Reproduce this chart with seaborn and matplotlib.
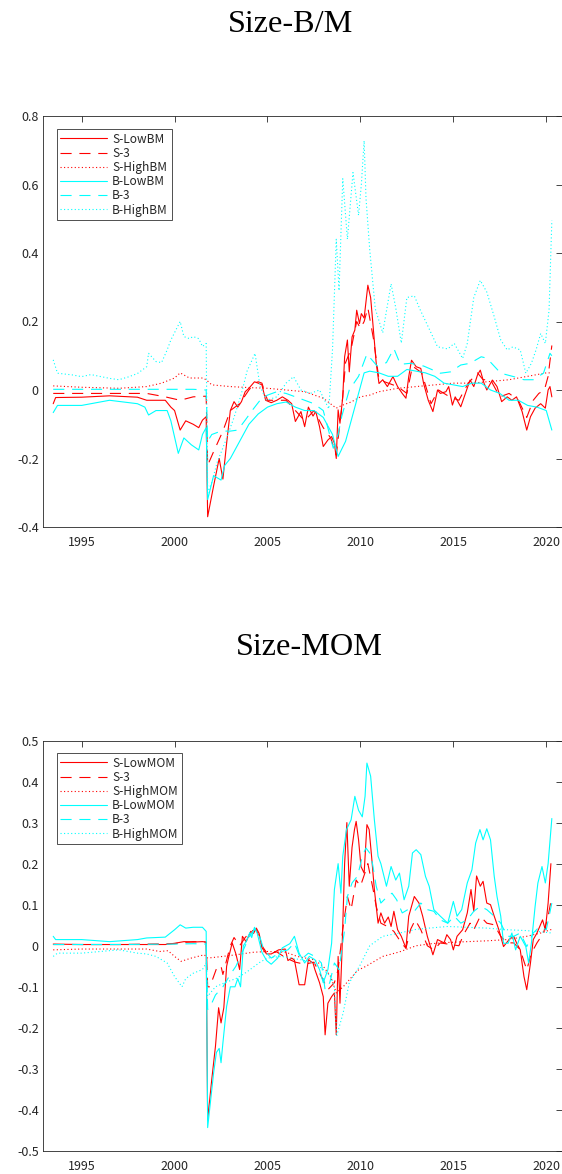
import matplotlib
matplotlib.use("Agg")
import matplotlib.pyplot as plt
import seaborn as sns
from matplotlib.ticker import FuncFormatter, FixedLocator

# ---------------- Size-B/M ----------------
bm_labels = ["S-LowBM", "S-3", "S-HighBM", "B-LowBM", "B-3", "B-HighBM"]

s_low_bm_x = [1993.47, 1993.6, 1995.0, 1996.5, 1998.0, 1998.5, 1999.5, 1999.8, 2000.0, 2000.3, 2000.6, 2001.0, 2001.3, 2001.5, 2001.70, 2001.78, 2002.1, 2002.4, 2002.6, 2002.8, 2003.0, 2003.2, 2003.4, 2003.6, 2003.8, 2004.0, 2004.3, 2004.5, 2004.7, 2004.9, 2005.2, 2005.5, 2005.8, 2006.1, 2006.3, 2006.5, 2006.8, 2007.0, 2007.2, 2007.45, 2007.6, 2007.8, 2008.0, 2008.25, 2008.45, 2008.6, 2008.7, 2008.8, 2008.9, 2009.05, 2009.15, 2009.3, 2009.4, 2009.55, 2009.7, 2009.8, 2009.95, 2010.05, 2010.2, 2010.4, 2010.55, 2010.7, 2010.85, 2011.0, 2011.2, 2011.45, 2011.75, 2012.0, 2012.25, 2012.45, 2012.6, 2012.75, 2013.0, 2013.25, 2013.4, 2013.65, 2013.9, 2014.15, 2014.3, 2014.6, 2014.75, 2014.95, 2015.1, 2015.4, 2015.65, 2015.9, 2016.1, 2016.3, 2016.45, 2016.65, 2016.8, 2017.1, 2017.35, 2017.6, 2017.9, 2018.15, 2018.4, 2018.7, 2018.95, 2019.15, 2019.4, 2019.7, 2019.95, 2020.1, 2020.2, 2020.3]
s_low_bm_y = [-0.04, -0.022, -0.021, -0.017, -0.021, -0.03, -0.03, -0.05, -0.06, -0.117, -0.09, -0.10, -0.11, -0.088, -0.078, -0.37, -0.28, -0.20, -0.26, -0.156, -0.06, -0.034, -0.05, -0.034, -0.005, 0.005, 0.024, 0.02, 0.015, -0.03, -0.037, -0.03, -0.02, -0.03, -0.04, -0.092, -0.063, -0.107, -0.05, -0.076, -0.063, -0.107, -0.165, -0.146, -0.136, -0.155, -0.2, -0.058, -0.097, -0.02, 0.097, 0.146, 0.053, 0.155, 0.175, 0.233, 0.194, 0.223, 0.21, 0.306, 0.27, 0.175, 0.078, 0.019, 0.03, 0.01, 0.039, 0.01, -0.01, -0.024, 0.039, 0.087, 0.068, 0.063, 0.019, -0.03, -0.063, 0.0, -0.01, -0.005, 0.01, -0.044, -0.02, -0.049, -0.01, 0.029, 0.01, 0.044, 0.058, 0.02, 0.0, 0.029, 0.01, -0.034, -0.02, -0.03, -0.02, -0.063, -0.117, -0.078, -0.053, -0.04, -0.053, 0.0, 0.01, -0.02]

s_3_bm_x = [1993.47, 1995.0, 1997.0, 1998.5, 1999.5, 2000.3, 2001.0, 2001.70, 2001.78, 2002.1, 2002.3, 2002.6, 2003.0, 2003.5, 2004.0, 2004.3, 2004.5, 2004.7, 2005.0, 2005.5, 2006.0, 2006.5, 2007.0, 2007.5, 2008.0, 2008.4, 2008.7, 2009.0, 2009.2, 2009.5, 2009.8, 2010.0, 2010.2, 2010.4, 2010.7, 2011.0, 2011.5, 2012.0, 2012.5, 2012.8, 2013.3, 2013.8, 2014.2, 2014.8, 2015.3, 2015.8, 2016.3, 2016.6, 2017.0, 2017.5, 2018.0, 2018.5, 2018.95, 2019.3, 2019.6, 2019.9, 2020.1, 2020.3]
s_3_bm_y = [-0.01, -0.01, -0.01, -0.01, -0.02, -0.03, -0.02, -0.018, -0.22, -0.18, -0.156, -0.12, -0.06, -0.04, 0.0, 0.02, 0.024, 0.02, -0.03, -0.03, -0.03, -0.06, -0.09, -0.06, -0.11, -0.14, -0.19, -0.05, 0.08, 0.12, 0.2, 0.18, 0.2, 0.24, 0.15, 0.03, 0.02, 0.01, -0.01, 0.07, 0.05, -0.04, 0.0, -0.02, -0.03, 0.02, 0.05, 0.03, 0.03, -0.02, -0.01, -0.03, -0.08, -0.03, -0.01, 0.0, 0.04, 0.13]

s_high_bm_x = [1993.47, 1995.0, 1997.0, 1998.5, 1999.3, 2000.0, 2000.3, 2000.8, 2001.5, 2001.70, 2002.0, 2003.0, 2004.0, 2005.0, 2006.0, 2007.0, 2008.0, 2008.7, 2009.0, 2009.5, 2010.0, 2010.5, 2011.0, 2012.0, 2013.0, 2014.0, 2015.0, 2016.0, 2017.0, 2018.0, 2019.0, 2020.0, 2020.3]
s_high_bm_y = [0.012, 0.008, 0.005, 0.01, 0.02, 0.035, 0.05, 0.035, 0.035, 0.03, 0.015, 0.01, 0.007, 0.005, 0.0, -0.005, -0.024, -0.053, -0.045, -0.035, -0.02, -0.015, -0.005, 0.005, 0.01, 0.015, 0.02, 0.02, 0.025, 0.03, 0.04, 0.05, 0.05]

b_low_bm_x = [1993.47, 1993.7, 1995.0, 1996.5, 1998.0, 1998.4, 1998.6, 1999.0, 1999.6, 1999.8, 2000.2, 2000.5, 2000.9, 2001.3, 2001.5, 2001.70, 2001.78, 2002.1, 2002.5, 2002.7, 2003.0, 2003.5, 2004.0, 2004.5, 2005.0, 2005.5, 2006.0, 2006.5, 2007.0, 2007.5, 2008.0, 2008.5, 2008.8, 2009.2, 2009.5, 2009.8, 2010.2, 2010.5, 2011.0, 2011.5, 2012.0, 2012.5, 2013.0, 2013.5, 2014.0, 2014.5, 2015.0, 2015.5, 2016.0, 2016.5, 2017.0, 2017.5, 2018.0, 2018.5, 2019.0, 2019.5, 2020.0, 2020.3]
b_low_bm_y = [-0.066, -0.045, -0.045, -0.03, -0.04, -0.05, -0.073, -0.06, -0.06, -0.09, -0.185, -0.14, -0.16, -0.175, -0.13, -0.11, -0.32, -0.25, -0.263, -0.22, -0.2, -0.15, -0.1, -0.07, -0.05, -0.04, -0.035, -0.05, -0.06, -0.06, -0.08, -0.13, -0.194, -0.15, -0.09, -0.03, 0.05, 0.055, 0.05, 0.04, 0.04, 0.06, 0.055, 0.05, 0.04, 0.02, 0.015, 0.01, 0.02, 0.02, 0.0, -0.01, -0.03, -0.03, -0.045, -0.05, -0.06, -0.117]

b_3_bm_x = [1993.47, 1995.0, 1997.0, 1999.0, 2001.0, 2001.70, 2001.78, 2002.0, 2002.5, 2003.0, 2003.4, 2003.8, 2004.2, 2004.6, 2005.0, 2005.5, 2006.0, 2006.5, 2007.0, 2007.5, 2008.0, 2008.54, 2008.8, 2009.0, 2009.4, 2009.9, 2010.35, 2010.9, 2011.4, 2011.8, 2012.15, 2012.7, 2013.4, 2014.3, 2014.85, 2015.4, 2015.9, 2016.5, 2016.8, 2017.55, 2018.25, 2018.8, 2019.3, 2019.85, 2020.2, 2020.3]
b_3_bm_y = [0.002, 0.002, 0.002, 0.002, 0.002, 0.0, -0.15, -0.13, -0.12, -0.12, -0.117, -0.088, -0.058, -0.03, -0.015, -0.005, -0.01, -0.02, -0.03, -0.04, -0.06, -0.17, -0.13, -0.076, 0.0, 0.04, 0.105, 0.07, 0.08, 0.121, 0.075, 0.078, 0.07, 0.049, 0.053, 0.073, 0.078, 0.097, 0.093, 0.049, 0.039, 0.03, 0.03, 0.049, 0.107, 0.1]

b_high_bm_x = [1993.47, 1993.7, 1994.5, 1995.0, 1995.5, 1996.5, 1997.0, 1997.5, 1998.0, 1998.5, 1998.6, 1999.0, 1999.3, 1999.6, 1999.8, 2000.3, 2000.5, 2000.8, 2001.0, 2001.3, 2001.5, 2001.70, 2001.78, 2002.0, 2002.3, 2002.7, 2003.2, 2003.6, 2003.9, 2004.33, 2004.6, 2004.95, 2005.5, 2006.0, 2006.4, 2006.8, 2007.3, 2007.8, 2008.3, 2008.5, 2008.7, 2008.85, 2009.05, 2009.3, 2009.6, 2009.9, 2010.05, 2010.2, 2010.3, 2010.5, 2010.8, 2011.2, 2011.65, 2011.9, 2012.2, 2012.5, 2012.9, 2013.2, 2013.6, 2014.15, 2014.7, 2015.05, 2015.5, 2015.75, 2016.1, 2016.45, 2016.8, 2017.2, 2017.55, 2017.9, 2018.2, 2018.6, 2018.9, 2019.2, 2019.45, 2019.7, 2019.95, 2020.15, 2020.3]
b_high_bm_y = [0.088, 0.049, 0.044, 0.039, 0.045, 0.034, 0.03, 0.038, 0.048, 0.068, 0.107, 0.083, 0.08, 0.117, 0.146, 0.2, 0.156, 0.15, 0.156, 0.15, 0.127, 0.136, -0.3, -0.27, -0.21, -0.155, -0.08, -0.01, 0.055, 0.107, 0.01, -0.03, -0.02, 0.02, 0.039, 0.0, -0.01, 0.0, -0.055, 0.12, 0.44, 0.29, 0.617, 0.44, 0.635, 0.51, 0.6, 0.728, 0.56, 0.41, 0.237, 0.167, 0.31, 0.24, 0.137, 0.27, 0.275, 0.236, 0.19, 0.126, 0.12, 0.136, 0.092, 0.136, 0.27, 0.32, 0.286, 0.214, 0.146, 0.117, 0.126, 0.117, 0.049, 0.078, 0.117, 0.165, 0.136, 0.233, 0.495]

# ---------------- Size-MOM ----------------
mom_labels = ["S-LowMOM", "S-3", "S-HighMOM", "B-LowMOM", "B-3", "B-HighMOM"]

s_low_mom_x = [1993.47, 1995.0, 1997.0, 1999.5, 2000.0, 2000.5, 2001.0, 2001.5, 2001.70, 2001.78, 2002.0, 2002.2, 2002.37, 2002.5, 2002.65, 2002.8, 2002.9, 2003.1, 2003.3, 2003.5, 2003.65, 2003.85, 2004.1, 2004.25, 2004.4, 2004.55, 2004.7, 2004.95, 2005.2, 2005.6, 2005.95, 2006.1, 2006.3, 2006.45, 2006.7, 2007.0, 2007.2, 2007.45, 2007.55, 2007.8, 2008.0, 2008.1, 2008.25, 2008.45, 2008.6, 2008.7, 2008.8, 2008.9, 2009.0, 2009.15, 2009.27, 2009.4, 2009.55, 2009.68, 2009.77, 2009.9, 2010.03, 2010.2, 2010.35, 2010.47, 2010.6, 2010.75, 2010.95, 2011.1, 2011.3, 2011.5, 2011.65, 2011.8, 2012.0, 2012.2, 2012.45, 2012.6, 2012.9, 2013.15, 2013.35, 2013.6, 2013.9, 2014.15, 2014.5, 2014.65, 2014.85, 2015.0, 2015.2, 2015.5, 2015.75, 2015.95, 2016.1, 2016.25, 2016.45, 2016.6, 2016.8, 2017.0, 2017.2, 2017.45, 2017.7, 2018.0, 2018.25, 2018.4, 2018.6, 2018.8, 2018.95, 2019.15, 2019.3, 2019.5, 2019.8, 2019.95, 2020.1, 2020.25]
s_low_mom_y = [0.004, 0.003, 0.003, 0.003, 0.006, 0.01, 0.009, 0.01, 0.009, -0.424, -0.326, -0.245, -0.151, -0.188, -0.151, -0.05, -0.03, 0.007, -0.02, -0.058, 0.023, 0.01, 0.035, 0.03, 0.043, 0.03, -0.005, -0.02, -0.02, -0.01, -0.008, -0.036, -0.03, -0.035, -0.095, -0.095, -0.034, -0.042, -0.058, -0.09, -0.124, -0.217, -0.14, -0.124, -0.115, -0.217, -0.026, -0.14, -0.026, 0.2, 0.3, 0.145, 0.24, 0.283, 0.303, 0.258, 0.193, 0.177, 0.295, 0.283, 0.218, 0.137, 0.055, 0.08, 0.055, 0.07, 0.047, 0.084, 0.039, 0.023, -0.006, 0.072, 0.12, 0.104, 0.072, 0.023, -0.022, 0.015, 0.007, 0.027, 0.015, -0.01, 0.023, 0.039, 0.08, 0.137, 0.084, 0.17, 0.145, 0.157, 0.104, 0.1, 0.072, 0.039, -0.002, 0.015, 0.023, 0.007, -0.01, -0.075, -0.107, -0.042, 0.015, 0.031, 0.063, 0.039, 0.104, 0.2]

s_3_mom_x = [1993.47, 1997.0, 2000.0, 2000.5, 2001.0, 2001.70, 2001.78, 2001.9, 2002.1, 2002.3, 2002.5, 2002.6, 2003.0, 2003.2, 2003.5, 2003.8, 2004.1, 2004.4, 2004.7, 2005.0, 2005.5, 2006.0, 2006.5, 2007.0, 2007.5, 2007.9, 2008.25, 2008.6, 2008.8, 2009.05, 2009.3, 2009.5, 2009.77, 2010.0, 2010.3, 2010.4, 2010.65, 2010.85, 2011.1, 2011.45, 2011.8, 2012.2, 2012.45, 2012.7, 2012.95, 2013.25, 2013.6, 2013.95, 2014.3, 2014.85, 2015.3, 2015.55, 2015.9, 2016.1, 2016.45, 2016.8, 2017.2, 2017.55, 2017.9, 2018.25, 2018.6, 2018.95, 2019.2, 2019.5, 2019.85, 2020.1, 2020.3]
s_3_mom_y = [0.003, 0.003, 0.005, 0.008, 0.01, 0.009, -0.1, -0.1, -0.075, -0.05, -0.05, -0.07, 0.0, 0.02, 0.0, 0.02, 0.035, 0.04, 0.0, -0.02, -0.015, -0.03, -0.04, -0.045, -0.04, -0.075, -0.107, -0.09, -0.058, 0.04, 0.12, 0.088, 0.16, 0.145, 0.185, 0.2, 0.145, 0.096, 0.055, 0.047, 0.035, 0.007, -0.006, 0.04, 0.063, 0.039, 0.0, -0.01, 0.007, 0.003, 0.0, 0.027, 0.055, 0.039, 0.072, 0.055, 0.051, 0.023, 0.007, 0.007, -0.01, -0.059, -0.018, 0.007, 0.031, 0.072, 0.12]

s_high_mom_x = [1993.47, 1995.0, 1998.5, 1999.2, 1999.65, 2000.0, 2000.35, 2000.9, 2001.6, 2001.78, 2002.4, 2003.3, 2004.2, 2005.0, 2006.0, 2006.6, 2007.5, 2008.0, 2008.4, 2008.7, 2009.07, 2009.4, 2009.85, 2010.3, 2011.2, 2012.1, 2013.0, 2013.8, 2014.7, 2015.75, 2016.8, 2017.9, 2018.95, 2019.7, 2020.3]
s_high_mom_y = [-0.01, -0.008, -0.008, -0.014, -0.012, -0.026, -0.038, -0.03, -0.022, -0.03, -0.027, -0.022, -0.016, -0.014, -0.016, -0.026, -0.034, -0.05, -0.075, -0.115, -0.1, -0.083, -0.06, -0.05, -0.026, -0.015, 0.0, 0.005, 0.008, 0.01, 0.012, 0.015, 0.023, 0.031, 0.04]

b_low_mom_x = [1993.47, 1993.6, 1995.0, 1996.5, 1998.0, 1998.5, 1999.5, 2000.0, 2000.3, 2000.6, 2001.0, 2001.5, 2001.70, 2001.78, 2002.1, 2002.25, 2002.4, 2002.5, 2002.6, 2002.8, 2003.0, 2003.25, 2003.4, 2003.55, 2003.7, 2003.85, 2004.05, 2004.15, 2004.3, 2004.45, 2004.7, 2004.95, 2005.2, 2005.55, 2005.8, 2006.0, 2006.2, 2006.45, 2006.7, 2007.0, 2007.25, 2007.55, 2007.8, 2008.0, 2008.25, 2008.45, 2008.6, 2008.8, 2008.95, 2009.05, 2009.25, 2009.5, 2009.7, 2009.9, 2010.1, 2010.25, 2010.35, 2010.55, 2010.75, 2010.95, 2011.1, 2011.4, 2011.65, 2011.9, 2012.1, 2012.35, 2012.6, 2012.8, 2013.0, 2013.25, 2013.5, 2013.7, 2013.95, 2014.3, 2014.7, 2015.0, 2015.2, 2015.45, 2015.75, 2016.0, 2016.2, 2016.43, 2016.6, 2016.8, 2017.0, 2017.2, 2017.35, 2017.55, 2017.7, 2017.95, 2018.15, 2018.35, 2018.6, 2018.9, 2019.05, 2019.2, 2019.4, 2019.55, 2019.77, 2019.95, 2020.1, 2020.3]
b_low_mom_y = [0.023, 0.015, 0.015, 0.01, 0.015, 0.019, 0.021, 0.039, 0.051, 0.043, 0.045, 0.045, 0.035, -0.443, -0.31, -0.26, -0.25, -0.285, -0.237, -0.148, -0.1, -0.1, -0.08, -0.1, 0.0, 0.01, 0.032, 0.02, 0.045, 0.03, -0.016, -0.036, -0.045, -0.03, -0.005, 0.0, 0.005, 0.023, -0.018, -0.042, -0.026, -0.034, -0.058, -0.09, -0.058, 0.006, 0.137, 0.2, 0.128, 0.218, 0.283, 0.307, 0.364, 0.33, 0.314, 0.364, 0.445, 0.413, 0.307, 0.218, 0.2, 0.145, 0.193, 0.16, 0.177, 0.112, 0.145, 0.226, 0.234, 0.222, 0.169, 0.145, 0.088, 0.072, 0.055, 0.108, 0.072, 0.088, 0.153, 0.185, 0.25, 0.283, 0.258, 0.285, 0.258, 0.169, 0.12, 0.072, 0.006, 0.006, 0.031, -0.01, 0.023, -0.002, -0.042, 0.006, 0.096, 0.153, 0.193, 0.153, 0.2, 0.31]

b_3_mom_x = [1993.47, 1997.0, 2000.0, 2001.0, 2001.70, 2001.78, 2001.9, 2002.2, 2002.6, 2003.0, 2003.3, 2003.6, 2004.0, 2004.3, 2004.5, 2004.8, 2005.2, 2005.75, 2006.1, 2006.45, 2006.8, 2007.2, 2007.55, 2007.9, 2008.1, 2008.35, 2008.6, 2008.85, 2009.15, 2009.3, 2009.55, 2009.85, 2010.1, 2010.3, 2010.5, 2010.65, 2010.85, 2011.1, 2011.45, 2011.7, 2011.95, 2012.25, 2012.55, 2012.9, 2013.25, 2013.6, 2013.95, 2014.3, 2014.7, 2015.05, 2015.4, 2015.75, 2016.1, 2016.45, 2016.8, 2017.2, 2017.55, 2017.9, 2018.25, 2018.6, 2018.95, 2019.3, 2019.65, 2020.0, 2020.3]
b_3_mom_y = [0.003, 0.003, 0.004, 0.005, 0.004, -0.155, -0.15, -0.12, -0.1, -0.07, -0.05, -0.02, 0.02, 0.04, 0.035, -0.01, -0.03, -0.014, -0.01, 0.007, -0.034, -0.018, -0.026, -0.042, -0.107, -0.09, -0.042, -0.058, 0.04, 0.12, 0.153, 0.17, 0.218, 0.238, 0.226, 0.2, 0.145, 0.104, 0.12, 0.128, 0.112, 0.08, 0.088, 0.084, 0.104, 0.088, 0.084, 0.063, 0.055, 0.072, 0.055, 0.063, 0.084, 0.096, 0.088, 0.072, 0.055, 0.023, 0.023, 0.031, -0.002, 0.031, 0.047, 0.039, 0.104]

b_high_mom_x = [1993.47, 1993.7, 1995.0, 1996.0, 1997.0, 1998.0, 1998.5, 1999.0, 1999.6, 2000.0, 2000.4, 2000.6, 2001.0, 2001.5, 2001.70, 2001.78, 2002.2, 2002.7, 2003.3, 2003.85, 2004.6, 2005.0, 2005.75, 2006.8, 2007.5, 2008.0, 2008.4, 2008.6, 2008.72, 2009.07, 2009.4, 2009.95, 2010.5, 2011.2, 2012.1, 2013.0, 2013.7, 2014.7, 2015.7, 2016.8, 2017.9, 2018.9, 2019.7, 2020.3]
b_high_mom_y = [-0.026, -0.018, -0.018, -0.014, -0.01, -0.018, -0.02, -0.026, -0.042, -0.075, -0.1, -0.08, -0.067, -0.058, -0.042, -0.123, -0.1, -0.09, -0.08, -0.065, -0.04, -0.03, -0.026, -0.034, -0.042, -0.058, -0.075, -0.1, -0.22, -0.164, -0.09, -0.05, 0.0, 0.023, 0.031, 0.04, 0.043, 0.047, 0.045, 0.043, 0.039, 0.037, 0.034, 0.031]

x_ticks = [1995, 2000, 2005, 2010, 2015, 2020]
bm_yticks = [-0.4, -0.2, 0.0, 0.2, 0.4, 0.6, 0.8]
mom_yticks = [-0.5, -0.4, -0.3, -0.2, -0.1, 0.0, 0.1, 0.2, 0.3, 0.4, 0.5]

# ---------------- styling ----------------
sns.set_style("white")
plt.rcParams['font.family'] = ['Noto Sans CJK JP', 'DejaVu Sans']
plt.rcParams['axes.unicode_minus'] = False

W, H = 562, 1174
fig = plt.figure(figsize=(W / 100, H / 100), dpi=100)


def px_axes(l, t, r, b):
    return fig.add_axes([l / W, 1 - b / H, (r - l) / W, (b - t) / H])


RED, CYAN = "#ff0000", "#00ffff"
SOLID, DASHED, DOTTED = "-", (0, (10, 7)), (0, (1, 2.2))
styles = [(RED, SOLID), (RED, DASHED), (RED, DOTTED),
          (CYAN, SOLID), (CYAN, DASHED), (CYAN, DOTTED)]

fmt = FuncFormatter(lambda v, p: ("%g" % round(v, 3)) if abs(v) > 1e-9 else "0")


def draw(ax, series, labels, yticks, ylim, legend_top_px):
    for (xs, ys), lab, (c, ls) in zip(series, labels, styles):
        sns.lineplot(x=xs, y=ys, ax=ax, color=c, linestyle=ls, linewidth=0.8,
                     label=lab, estimator=None, sort=False, legend=False)
    ax.set_xlim(1992.92, 2020.82)
    ax.set_ylim(*ylim)
    ax.xaxis.set_major_locator(FixedLocator(x_ticks))
    ax.yaxis.set_major_locator(FixedLocator(yticks))
    ax.yaxis.set_major_formatter(fmt)
    ax.xaxis.set_major_formatter(FuncFormatter(lambda v, p: "%d" % v))
    ax.set_xlabel("")
    ax.set_ylabel("")
    ax.tick_params(direction="in", length=4, width=0.6, top=True, right=True,
                   labelsize=9, colors="#262626")
    ax.tick_params(axis="x", pad=6.5)
    ax.tick_params(axis="y", pad=3)
    for sp in ax.spines.values():
        sp.set_linewidth(0.6)
        sp.set_color("#262626")
    axh = ax.get_window_extent().height
    axw = ax.get_window_extent().width
    leg = ax.legend(loc="upper left", bbox_to_anchor=(13.7 / axw, 1 - legend_top_px / axh),
                    borderaxespad=0, frameon=True, fancybox=False, framealpha=1,
                    edgecolor="#333333", fontsize=8.6, handlelength=3.9,
                    handletextpad=0.45, labelspacing=0.1, borderpad=0.3)
    leg.get_frame().set_linewidth(0.6)
    for t in leg.get_texts():
        t.set_color("#262626")


ax1 = px_axes(43, 116, 561.5, 527)
draw(ax1,
     [(s_low_bm_x, s_low_bm_y), (s_3_bm_x, s_3_bm_y), (s_high_bm_x, s_high_bm_y),
      (b_low_bm_x, b_low_bm_y), (b_3_bm_x, b_3_bm_y), (b_high_bm_x, b_high_bm_y)],
     bm_labels, bm_yticks, (-0.4, 0.8), 13)

ax2 = px_axes(43, 740.5, 561.5, 1151)
draw(ax2,
     [(s_low_mom_x, s_low_mom_y), (s_3_mom_x, s_3_mom_y), (s_high_mom_x, s_high_mom_y),
      (b_low_mom_x, b_low_mom_y), (b_3_mom_x, b_3_mom_y), (b_high_mom_x, b_high_mom_y)],
     mom_labels, mom_yticks, (-0.5, 0.5), 12.5)

fig.text(291 / W, 1 - 32 / H, "Size-B/M", ha="center", va="baseline",
         fontsize=23.2, family="Liberation Serif", color="black")
fig.text(309.5 / W, 1 - 655 / H, "Size-MOM", ha="center", va="baseline",
         fontsize=23.2, family="Liberation Serif", color="black")

fig.savefig("out.png", dpi=100)
